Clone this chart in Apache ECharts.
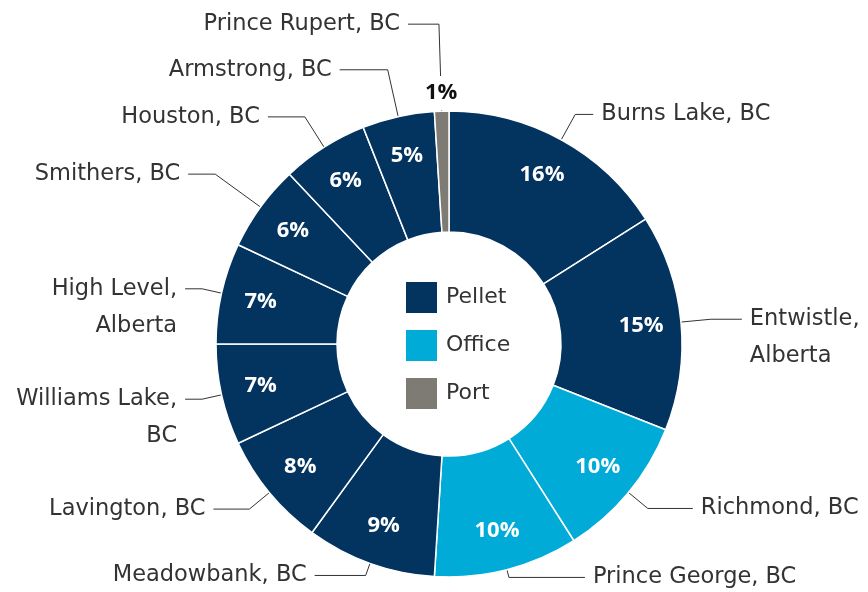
<!DOCTYPE html>
<html><head><meta charset="utf-8">
<script src="https://cdn.jsdelivr.net/npm/echarts@6/dist/echarts.min.js"></script>
<style>html,body{margin:0;padding:0;background:#fff}#c{width:868px;height:592px}</style>
</head><body><div id="c"></div><script>
// ---- data ----
const sites = ['Burns Lake, BC','Entwistle, Alberta','Richmond, BC','Prince George, BC','Meadowbank, BC','Lavington, BC','Williams Lake, BC','High Level, Alberta','Smithers, BC','Houston, BC','Armstrong, BC','Prince Rupert, BC'];
const shares = [16,15,10,10,9,8,7,7,6,6,5,1];
const types = ['Pellet','Pellet','Office','Office','Pellet','Pellet','Pellet','Pellet','Pellet','Pellet','Pellet','Port'];
const typeNames = ['Pellet','Office','Port'];

// ---- styles / layout ----
const typeColors = {Pellet:'#03335f', Office:'#00acd7', Port:'#7e7a74'};
const wrapName = [false,true,false,false,false,false,true,true,false,false,false,false];
const leadLen = [29,30,25,8,13,26,20,20,56,36,48,87];
const leadLen2 = [18,31,45,76,51,36,17,17,27,37,48,31];
const FONT = '"DejaVu Sans", sans-serif';
const PCT_FONT = '"Open Sans", sans-serif';
const CENTER = [449,344];
const LH = 37;

const chart = echarts.init(document.getElementById('c'));
const typeTotals = typeNames.map(t => shares.reduce((s,v,i)=> s + (types[i]===t ? v : 0), 0));

chart.setOption({
  animation:false,
  backgroundColor:'#fff',
  legend:{
    orient:'vertical', left:406, top:282, padding:0,
    itemWidth:31, itemHeight:31, itemGap:17, icon:'rect', selectedMode:false,
    data: typeNames,
    textStyle:{fontSize:22, color:'#333', fontFamily:FONT, padding:[0,0,0,4]}
  },
  series:[
    {
      type:'pie', name:'sites', center:CENTER, radius:[112,233], startAngle:90, clockwise:true,
      avoidLabelOverlap:false, silent:true,
      itemStyle:{borderColor:'#fff', borderWidth:1.5},
      label:{show:true, position:'outside', fontFamily:FONT, fontSize:22.5, color:'#333', lineHeight:LH,
             distanceToLabelLine:8,
             formatter: p => wrapName[p.dataIndex] ? p.name.replace(', ', ',\n') : p.name},
      labelLine:{show:true, lineStyle:{color:'#333', width:1}},
      labelLayout: p => ({
        hideOverlap:false, moveOverlap:null,
        dy: wrapName[p.dataIndex] ? LH/2 : 0,
        labelLinePoints: p.labelLinePoints
      }),
      data: sites.map((n,i)=>({
        name:n, value:shares[i],
        itemStyle:{color:typeColors[types[i]]},
        labelLine:{length:leadLen[i], length2:leadLen2[i]}
      }))
    },
    {
      type:'pie', name:'pct', center:CENTER, radius:[112,268], startAngle:90, silent:true, z:3,
      avoidLabelOverlap:false,
      itemStyle:{color:'transparent'},
      label:{show:true, position:'inside', formatter: p => p.value + '%', color:'#fff', fontWeight:'bold', fontSize:22, fontFamily:PCT_FONT},
      labelLine:{show:false},
      labelLayout:{hideOverlap:false},
      data: shares.map((v,i)=>({name:sites[i], value:v, label:{show: v >= 2}}))
    },
    {
      type:'pie', name:'pctSmall', center:CENTER, radius:[236,260], startAngle:90, silent:true, z:4,
      avoidLabelOverlap:false,
      itemStyle:{color:'transparent'},
      label:{show:true, position:'inside', formatter: p => p.value + '%', color:'#111', fontWeight:'bold', fontSize:22, fontFamily:PCT_FONT,
             backgroundColor:'#fff', padding:[10,2,2,2]},
      labelLine:{show:false},
      labelLayout:{hideOverlap:false},
      data: shares.map((v,i)=>({name:sites[i], value:v, label:{show: v < 2}}))
    },
    {
      type:'pie', name:'legendKeys', center:CENTER, radius:[0,0], silent:true,
      label:{show:false}, labelLine:{show:false},
      data: typeNames.map((t,i)=>({name:t, value:typeTotals[i], itemStyle:{color:typeColors[t]}}))
    }
  ]
});
</script></body></html>
